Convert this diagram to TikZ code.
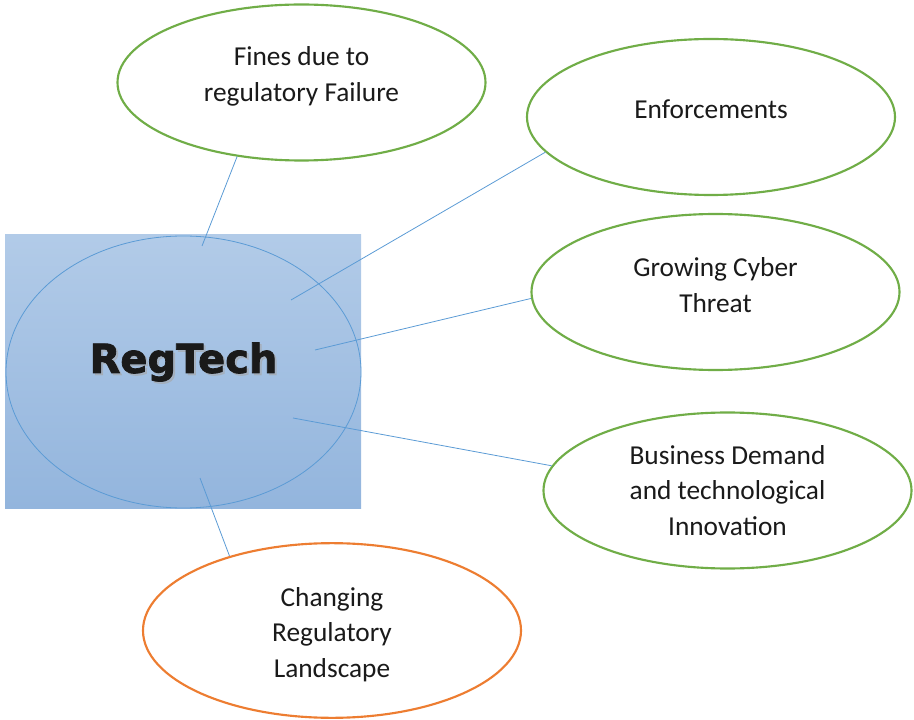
\documentclass[tikz,border=0pt]{standalone}
\usepackage{fontspec}
\setmainfont{Carlito}
\newfontfamily\heavyfont[BoldFeatures={FakeBold=2}]{DejaVu Sans}
\usetikzlibrary{shapes.geometric}
\definecolor{egreen}{HTML}{70AD47}
\definecolor{eorange}{HTML}{ED7D31}
\definecolor{eblue}{HTML}{5B9BD5}
\definecolor{boxtop}{HTML}{B2CBE8}
\definecolor{boxbot}{HTML}{93B5DD}
\definecolor{txt}{HTML}{1A1A1A}
\tikzset{
  bubble/.style={ellipse, draw=egreen, line width=1.6pt, fill=white, inner sep=0pt,
    minimum width=276pt, minimum height=117pt},
  orangebubble/.style={bubble, draw=eorange, minimum width=283.5pt, minimum height=131pt},
  lbl/.style={align=center, text=txt, inner sep=0pt, font=\fontsize{20.5}{26.5}\selectfont},
  link/.style={draw=eblue, line width=0.6pt},
}
\begin{document}
\begin{tikzpicture}[x=0.75pt,y=-0.75pt]
\useasboundingbox (0,0) rectangle (914,720);
% central box
\node[rectangle, inner sep=0pt, minimum width=267pt, minimum height=204.75pt,
  top color=boxtop, bottom color=boxbot, draw=none] (box) at (183,371.5) {};
\node[ellipse, draw=eblue, line width=0.6pt, inner sep=0pt,
  minimum width=266.25pt, minimum height=204pt] (core) at (183.5,372) {};
\node[text=gray!70, font=\heavyfont\bfseries\fontsize{30}{32}\selectfont, opacity=0.5] (shadow) at (185.5,364) {RegTech};
\node[text=txt, font=\heavyfont\bfseries\fontsize{30}{32}\selectfont] (regtech) at (183.5,362) {RegTech};
% inner ends
\coordinate (i1) at (202,246);
\coordinate (i2) at (291,300);
\coordinate (i3) at (315,350);
\coordinate (i4) at (293,418);
\coordinate (i5) at (200,478);
% outer bubbles
\node[bubble] (fines) at (301.5,82.5) {};
\node[lbl] (finesT) at (301.5,76.5) {Fines due to\\regulatory Failure};
\node[bubble] (enf) at (711,117) {};
\node[lbl] (enfT) at (711,109) {Enforcements};
\node[bubble] (cyber) at (715.5,292) {};
\node[lbl] (cyberT) at (715.5,285) {Growing Cyber\\Threat};
\node[bubble] (biz) at (727.5,490.5) {};
\node[lbl] (bizT) at (727.5,490.5) {Business Demand\\and technological\\Innovation};
\node[orangebubble] (chg) at (332,630.5) {};
\node[lbl] (chgT) at (332,634.5) {Changing\\Regulatory\\Landscape};
% connectors
\draw[link] (i1) -- (fines.229.7);
\draw[link] (i2) -- (enf.192.3);
\draw[link] (i3) -- (cyber.182.5);
\draw[link] (i4) -- (biz.172.1);
\draw[link] (i5) -- (chg.144.4);
\end{tikzpicture}
\end{document}
